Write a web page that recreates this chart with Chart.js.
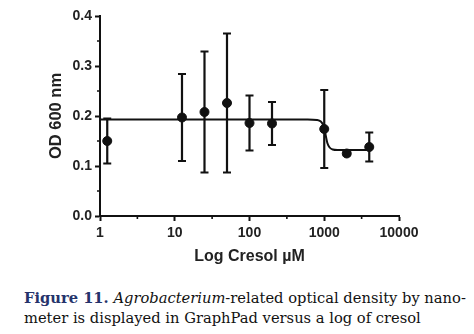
<!DOCTYPE html>
<html>
<head>
<meta charset="utf-8">
<script src="https://cdn.jsdelivr.net/npm/chart.js@4/dist/chart.umd.min.js"></script>
<style>
  html, body { margin: 0; padding: 0; background: #fff; }
  #wrap { position: relative; width: 474px; height: 334px; overflow: hidden; }
  #plot { position: absolute; left: 0; top: 0; }
  #caption {
    position: absolute; left: 24px; top: 288px; width: 450px;
    font-family: "DejaVu Serif", serif; font-size: 14.7px; line-height: 20px;
    color: #111; white-space: nowrap;
  }
  #caption b { color: #25336b; }
</style>
</head>
<body>
<div id="wrap">
  <canvas id="plot" width="474" height="270"></canvas>
  <div id="caption"><b>Figure 11.</b> <i>Agrobacterium</i>-related optical density by nano-<br>meter is displayed in GraphPad versus a log of cresol</div>
</div>
<script>
// Cresol concentration (µM), mean OD600 and standard deviation
const cresolUM = [1.25, 12.5, 25, 50, 100, 200, 1000, 2000, 4000];
const odMean   = [0.150, 0.197, 0.208, 0.226, 0.186, 0.185, 0.174, 0.125, 0.138];
const odSD     = [0.045, 0.087, 0.121, 0.139, 0.055, 0.043, 0.078, 0.004, 0.029];

// Sigmoidal fit as plotted (concentration, OD600)
const fitX = [1, 600, 800, 900, 960, 1000, 1050, 1100, 1180, 1300, 1500, 4000];
const fitY = [0.193, 0.193, 0.192, 0.189, 0.183, 0.175, 0.160, 0.146, 0.137, 0.133, 0.132, 0.132];

// Axis tick values
const xMajorTicks = [1, 10, 100, 1000, 10000];
const xMinorTicks = [3.162, 31.62, 316.2, 3162];
const yMinorTicks = [0.05, 0.15, 0.25, 0.35];

const INK = '#111';

// Error bars with caps, drawn under the markers
const errorBars = {
  id: 'errorBars',
  beforeDatasetsDraw(chart) {
    const { ctx, scales: { x, y } } = chart;
    ctx.save();
    ctx.strokeStyle = INK;
    ctx.lineWidth = 2.2;
    cresolUM.forEach((c, i) => {
      const px = x.getPixelForValue(c);
      const top = y.getPixelForValue(odMean[i] + odSD[i]);
      const bot = y.getPixelForValue(odMean[i] - odSD[i]);
      ctx.beginPath();
      ctx.moveTo(px, top); ctx.lineTo(px, bot);
      ctx.moveTo(px - 4, top); ctx.lineTo(px + 4, top);
      ctx.moveTo(px - 4, bot); ctx.lineTo(px + 4, bot);
      ctx.stroke();
    });
    ctx.restore();
  }
};

// Short minor tick marks on both axes
const minorTicks = {
  id: 'minorTicks',
  afterDraw(chart) {
    const { ctx, scales: { x, y } } = chart;
    ctx.save();
    ctx.strokeStyle = INK;
    ctx.lineWidth = 1.6;
    ctx.beginPath();
    xMinorTicks.forEach(v => {
      const px = x.getPixelForValue(v);
      ctx.moveTo(px, x.top); ctx.lineTo(px, x.top + 3);
    });
    yMinorTicks.forEach(v => {
      const py = y.getPixelForValue(v);
      ctx.moveTo(y.right, py); ctx.lineTo(y.right - 3, py);
    });
    ctx.stroke();
    ctx.restore();
  }
};

Chart.defaults.font.family = '"Liberation Sans", Arial, sans-serif';
Chart.defaults.color = '#222';

new Chart(document.getElementById('plot'), {
  type: 'scatter',
  data: {
    datasets: [
      {
        label: 'fit',
        data: fitX.map((v, i) => ({ x: v, y: fitY[i] })),
        showLine: true,
        borderColor: INK,
        borderWidth: 2,
        pointRadius: 0,
        cubicInterpolationMode: 'monotone',
        order: 2
      },
      {
        label: 'OD600',
        data: cresolUM.map((v, i) => ({ x: v, y: odMean[i] })),
        showLine: false,
        backgroundColor: INK,
        borderColor: INK,
        pointRadius: 4.5,
        order: 1
      }
    ]
  },
  options: {
    responsive: false,
    animation: false,
    events: [],
    layout: { padding: { left: 0, right: 75, top: 16, bottom: 0 } },
    plugins: { legend: { display: false }, tooltip: { enabled: false } },
    scales: {
      x: {
        type: 'logarithmic',
        min: 1, max: 10000,
        afterBuildTicks: s => { s.ticks = xMajorTicks.map(v => ({ value: v, major: true })); },
        afterFit: s => { s.height = 54; },
        ticks: {
          callback: v => String(v),
          font: { size: 14, weight: 'bold' },
          padding: 4,
          maxRotation: 0,
          autoSkip: false
        },
        grid: { drawOnChartArea: false, tickLength: 5, tickWidth: 2, tickColor: INK },
        border: { display: true, color: INK, width: 2 },
        title: {
          display: true,
          text: 'Log Cresol µM',
          font: { size: 16, weight: 'bold', lineHeight: 1 },
          padding: { top: 0, bottom: 5 },
          color: '#222'
        }
      },
      y: {
        min: 0, max: 0.4,
        afterFit: s => { s.width = 100; },
        ticks: {
          stepSize: 0.1,
          callback: v => v.toFixed(1),
          font: { size: 14, weight: 'bold' },
          padding: 3
        },
        grid: { drawOnChartArea: false, tickLength: 5, tickWidth: 2, tickColor: INK },
        border: { display: true, color: INK, width: 2 },
        title: {
          display: true,
          text: 'OD 600 nm',
          font: { size: 16.5, weight: 'bold', lineHeight: 1 },
          padding: { top: 48, bottom: 0 },
          color: '#222'
        }
      }
    }
  },
  plugins: [errorBars, minorTicks]
});
</script>
</body>
</html>
